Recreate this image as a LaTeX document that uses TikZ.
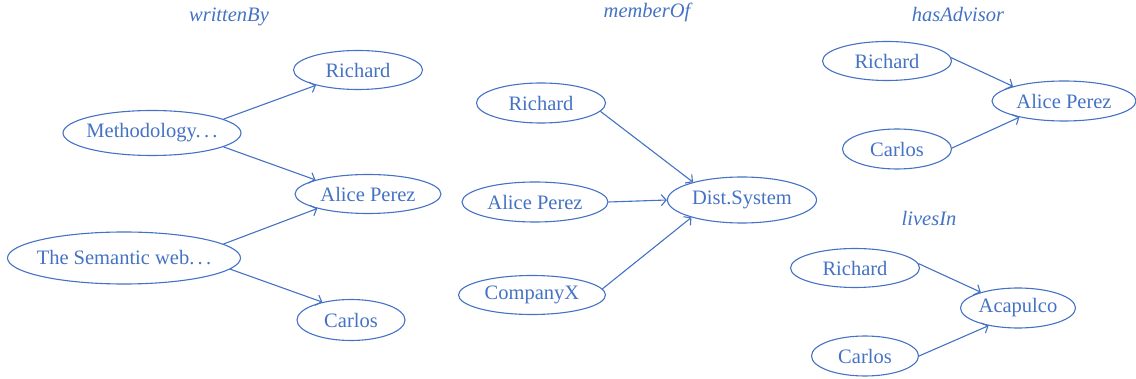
\documentclass[tikz,border=0pt]{standalone}
\usepackage{fontspec}
\setmainfont{Liberation Serif}
\usetikzlibrary{shapes.geometric,arrows.meta}
\definecolor{myblue}{RGB}{68,114,196}
\newcommand{\mydots}{.\kern0.16em.\kern0.16em.}
\newcommand{\zw}[1]{\makebox[0pt]{#1}}
\begin{document}
\begin{tikzpicture}[x=1pt,y=-1pt,
  ent/.style={ellipse,draw=myblue,line width=1.1pt,text=myblue,inner sep=0pt,
    font=\fontsize{20.5}{23}\selectfont},
  rel/.style={text=myblue,anchor=base,font=\fontsize{20.5}{23}\selectfont\itshape},
  arr/.style={draw=myblue,line width=1.1pt,-{Straight Barb[length=5pt,width=11pt]}}]
\useasboundingbox (0,0) rectangle (1136,379);
% writtenBy
\node[rel] (lw) at (229,22) {writtenBy};
\node[ent,minimum width=129pt,minimum height=39pt] (wr) at (358,70) {\zw{Richard}};
\node[ent,minimum width=178pt,minimum height=45pt] (wm) at (152,133) {\zw{Methodology\mydots}};
\node[ent,minimum width=146pt,minimum height=39pt] (wa) at (368,194) {\zw{Alice Perez}};
\node[ent,minimum width=233pt,minimum height=52pt] (ws) at (124,258) {\zw{The Semantic web\mydots}};
\node[ent,minimum width=108pt,minimum height=41pt] (wc) at (351,320) {\zw{Carlos}};
\draw[arr] (wm.11) -- (wr.200);
\draw[arr] (wm.-11) -- (wa.165);
\draw[arr] (ws.8.6) -- (wa.196);
\draw[arr] (ws.-6.6) -- (wc.148);
% memberOf
\node[rel] (lm) at (647,18) {memberOf};
\node[ent,minimum width=129pt,minimum height=40pt] (mr) at (541,103) {\zw{Richard}};
\node[ent,minimum width=146pt,minimum height=40pt] (ma) at (535,202) {\zw{Alice Perez}};
\node[ent,minimum width=147pt,minimum height=39pt] (mc) at (532,295) {\zw{CompanyX}};
\node[ent,minimum width=149pt,minimum height=46pt] (md) at (742,200) {\zw{Dist.System}};
\draw[arr] (mr.-8) -- (md.160);
\draw[arr] (ma.0) -- (md.180);
\draw[arr] (mc.5.5) -- (md.199);
% hasAdvisor
\node[rel] (lh) at (958,22) {hasAdvisor};
\node[ent,minimum width=129pt,minimum height=39pt] (hr) at (887,61) {\zw{Richard}};
\node[ent,minimum width=144pt,minimum height=40pt] (ha) at (1064,101) {\zw{Alice Perez}};
\node[ent,minimum width=109pt,minimum height=40pt] (hc) at (897,149) {\zw{Carlos}};
\draw[arr] (hr.3.6) -- (ha.164);
\draw[arr] (hc.1) -- (ha.200);
% livesIn
\node[rel] (ll) at (929,226) {livesIn};
\node[ent,minimum width=129pt,minimum height=39pt] (lr) at (855,268) {\zw{Richard}};
\node[ent,minimum width=115pt,minimum height=40pt] (la) at (1018,308) {\zw{Acapulco}};
\node[ent,minimum width=107pt,minimum height=40pt] (lc) at (865,356) {\zw{Carlos}};
\draw[arr] (lr.4.5) -- (la.157.6);
\draw[arr] (lc.0) -- (la.211);
\end{tikzpicture}
\end{document}
